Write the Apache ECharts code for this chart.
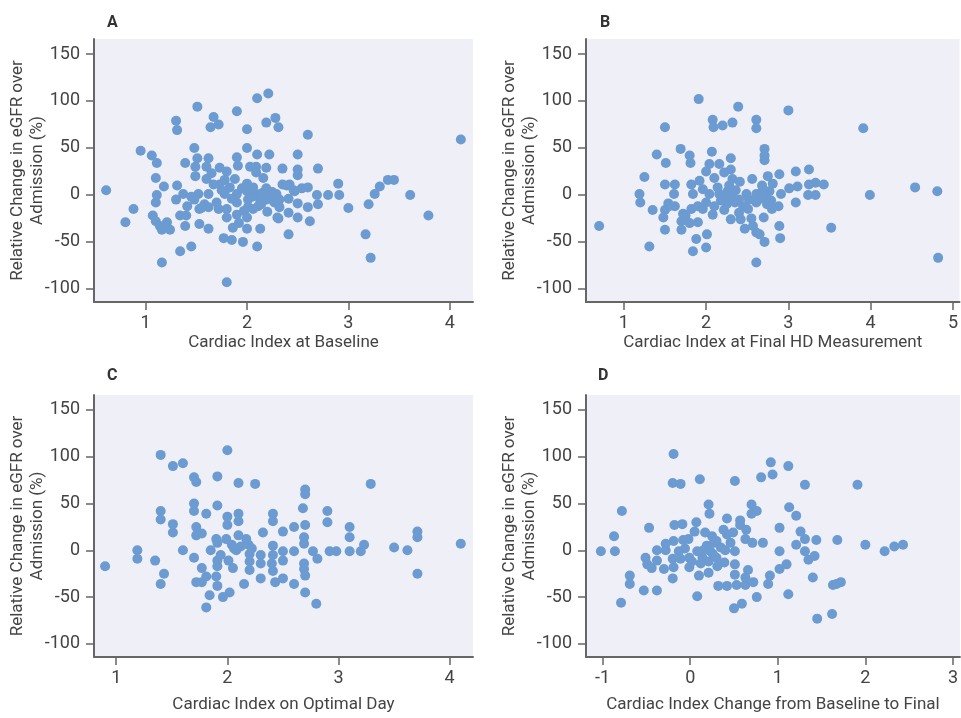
<!DOCTYPE html>
<html>
<head>
<meta charset="utf-8">
<script src="https://cdn.jsdelivr.net/npm/echarts@6.0.0/dist/echarts.min.js"></script>
<style>
  html, body { margin: 0; padding: 0; background: #fff; }
  #main { width: 961px; height: 718px; }
</style>
</head>
<body>
<div id="main"></div>
<script>
// tick labels
var yTicks = [-100, -50, 0, 50, 100, 150];
var xTicksA = [1, 2, 3, 4];
var xTicksB = [1, 2, 3, 4, 5];
var xTicksC = [1, 2, 3, 4];
var xTicksD = [-1, 0, 1, 2, 3];

// [cardiac index, relative change in eGFR (%)]
var baselineCI = [
  [0.61,5],[0.80,-29],[0.88,-15],[0.95,47],[1.06,42],[1.11,34],[1.10,18],[1.18,9],[1.11,0],[1.10,-8],
  [1.07,-22],[1.10,-28],[1.14,-33],[1.16,-37],[1.21,-29],[1.24,-37],[1.16,-72],
  [1.30,79],[1.31,69],[1.31,10],[1.30,-5],[1.37,1],[1.41,-12],[1.34,-22],[1.40,-22],[1.39,-33],[1.34,-60],[1.45,-55],
  [1.39,34],[1.48,50],[1.51,39],[1.49,30],[1.49,20],[1.51,94],[1.48,-5],[1.52,1],[1.53,-15],[1.53,-31],[1.62,-36],
  [1.62,39],[1.60,30],[1.65,23],[1.60,17],[1.67,11],[1.62,1],[1.62,-13],[1.70,-8],[1.67,83],[1.72,75],[1.64,72],
  [1.73,29],[1.80,25],[1.73,11],[1.78,16],[1.72,-15],[1.80,-15],[1.80,-24],[1.77,-46],[1.85,-48],[1.80,-93],
  [1.88,17],[1.83,8],[1.78,1],[1.90,89],[1.90,40],[1.91,31],[1.90,1],[1.90,-8],[1.90,-21],[1.86,-35],[1.92,-30],
  [2.00,70],[2.00,50],[2.00,12],[2.00,4],[2.01,-5],[2.01,-13],[2.00,-24],[2.00,-36],[1.96,-50],
  [2.10,103],[2.21,108],[2.19,77],[2.28,82],[2.31,72],[2.10,43],[2.22,43],[2.03,30],[2.09,30],[2.19,29],[2.09,24],[2.16,18],
  [2.09,1],[2.19,7],[2.19,-5],[2.13,-6],[2.11,-12],[2.06,-15],[2.20,-18],[2.30,-24],[2.13,-36],[2.10,-55],
  [2.35,28],[2.35,11],[2.42,11],[2.29,1],[2.32,-5],[2.32,-13],[2.31,-25],[2.41,-19],[2.41,-42],[2.41,-4],
  [2.50,43],[2.50,27],[2.50,21],[2.47,4],[2.50,-9],[2.50,-24],[2.54,7],[2.60,64],[2.60,8],[2.60,-13],[2.62,-28],
  [2.70,28],[2.69,0],[2.70,-10],[2.80,0],[2.90,12],[2.91,0],[3.00,-14],[3.17,-42],[3.20,-10],[3.22,-67],
  [3.26,1],[3.31,9],[3.39,16],[3.45,16],[3.61,0],[3.79,-22],[4.11,59],
  [2.24,0],[2.05,-2],[2.15,2],[2.27,-8],[2.39,10],[2.46,5],[1.95,7],[1.85,-4],[1.75,5],[2.06,8],
  [2.14,-10],[1.97,-17],[2.25,3],[1.58,-10],[1.45,-2],[1.55,-14]
];
var finalCI = [
  [0.70,-33],[1.19,1],[1.20,-8],[1.25,19],[1.31,-55],[1.35,-16],[1.40,43],[1.50,72],[1.51,34],[1.50,11],
  [1.62,11],[1.61,1],[1.54,-9],[1.50,-16],[1.48,-24],[1.62,-12],[1.50,-37],
  [1.69,49],[1.80,42],[1.81,34],[1.70,-28],[1.75,-22],[1.70,-37],[1.80,-30],[1.82,11],[1.84,1],[1.92,15],
  [1.82,-15],[1.90,-12],[1.96,-15],[1.91,102],[1.90,-29],[1.88,-47],[2.01,-42],[1.84,-60],[2.00,-56],
  [2.07,46],[2.04,33],[2.16,33],[2.00,25],[2.10,18],[2.04,1],[2.16,1],[2.08,80],[2.09,72],[2.20,74],[2.32,77],
  [2.39,94],[2.30,39],[2.30,27],[2.22,24],[2.32,17],[2.41,14],
  [2.10,-12],[2.08,-21],[2.22,-16],[2.20,-3],[2.30,-4],[2.26,4],[2.32,2],[2.40,-5],[2.40,-19],[2.30,-26],
  [2.42,-26],[2.49,1],[2.51,-15],[2.56,17],
  [2.47,-36],[2.57,-33],[2.61,-40],[2.65,-42],[2.71,-50],[2.61,-72],[2.61,80],[2.61,71],[2.71,49],[2.71,42],
  [2.71,37],[2.61,1],[2.61,-8],[2.69,6],[2.71,-3],[2.70,-24],
  [2.75,20],[2.81,12],[2.77,4],[2.79,-6],[2.80,-15],[2.89,22],[2.91,1],[2.88,-12],[2.89,-33],[2.90,-46],
  [3.00,90],[3.01,7],[3.11,9],[3.09,25],[3.09,-8],
  [3.25,27],[3.25,11],[3.33,13],[3.43,11],[3.24,0],[3.33,0],[3.52,-35],[3.91,71],[3.99,0],[4.54,8],[4.81,4],[4.82,-67],
  [2.25,-10],[2.35,-8],[2.28,10],[2.14,8],[2.36,5],[2.52,-5],[2.66,-4],[2.74,-10],[2.68,10],[2.55,-25],
  [2.18,-6],[1.96,6],[2.00,-8],[2.45,-12],[1.72,-20],[1.55,-12]
];
var optimalCI = [
  [0.90,-17],[1.19,0],[1.19,-9],[1.35,-11],[1.40,102],[1.40,42],[1.40,33],[1.43,-25],[1.40,-36],[1.51,90],
  [1.60,93],[1.51,28],[1.51,19],[1.60,0],
  [1.70,78],[1.72,73],[1.70,50],[1.70,42],[1.72,25],[1.72,16],[1.77,18],[1.70,-8],[1.81,39],[1.77,-19],
  [1.72,-34],[1.77,-34],[1.81,-28],[1.84,-48],[1.81,-61],
  [1.91,79],[1.91,48],[1.90,12],[1.91,8],[1.85,0],[1.91,-11],[1.91,-17],[1.90,-28],[1.91,-38],[1.96,-50],[2.02,-45],
  [2.00,107],[2.00,36],[2.00,27],[1.99,12],[2.04,6],[2.08,0],[2.01,-11],[2.05,-19],[2.10,72],[2.10,39],
  [2.10,31],[2.10,16],[2.17,12],[2.19,6],[2.20,-4],[2.20,-12],[2.20,-21],[2.15,-36],
  [2.25,71],[2.32,19],[2.30,-5],[2.30,-14],[2.30,-30],[2.41,39],[2.41,31],[2.41,5],[2.41,-5],[2.40,-14],[2.41,-22],[2.43,-34],
  [2.50,20],[2.50,-1],[2.50,-11],[2.50,-30],[2.60,25],[2.60,-1],[2.60,-36],[2.68,45],[2.70,65],[2.70,60],
  [2.70,27],[2.69,14],[2.69,7],[2.69,-14],[2.69,-20],[2.70,-27],[2.70,-45],
  [2.77,-1],[2.81,-9],[2.80,-57],[2.90,42],[2.90,30],[2.92,-1],[2.98,-1],[3.10,25],[3.10,14],[3.10,-1],
  [3.20,-1],[3.23,6],[3.29,71],[3.50,3],[3.62,0],[3.71,20],[3.71,14],[3.71,-25],[4.10,7],
  [2.06,2],[2.12,4],[1.94,-5],[2.22,2]
];
var changeCI = [
  [-1.02,-1],[-0.86,-1],[-0.87,15],[-0.78,42],[-0.69,-27],[-0.69,-36],[-0.79,-56],[-0.53,-43],[-0.38,-43],
  [-0.47,24],[-0.51,-8],[-0.49,-15],[-0.44,-19],[-0.38,-11],[-0.38,0],[-0.28,7],[-0.28,0],[-0.30,-20],
  [-0.19,103],[-0.20,72],[-0.11,71],[-0.18,27],[-0.09,28],[-0.19,10],[-0.08,11],[-0.02,12],[-0.13,-1],
  [-0.11,-9],[-0.20,-9],[-0.19,-18],[-0.20,-30],[-0.01,-18],[-0.01,-8],
  [0.07,30],[0.05,20],[0.08,-1],[0.11,76],[0.08,-49],[0.10,-27],[0.17,19],[0.25,15],[0.21,49],[0.22,39],
  [0.19,5],[0.23,-1],[0.27,8],[0.30,10],[0.14,-8],[0.21,-12],[0.30,-8],[0.31,-17],[0.21,-24],
  [0.32,-38],[0.42,-38],[0.42,34],[0.38,22],[0.42,17],[0.49,19],[0.40,0],[0.51,-1],[0.39,-13],[0.51,-15],
  [0.51,74],[0.50,-62],[0.59,-57],[0.51,-26],[0.53,-37],[0.63,-37],[0.63,-29],[0.66,-21],[0.72,-34],
  [0.57,32],[0.57,27],[0.64,22],[0.63,12],[0.71,8],[0.70,49],[0.70,39],[0.76,42],[0.76,-50],[0.81,78],
  [0.83,8],[0.92,94],[0.94,81],[0.89,-36],[0.91,-27],
  [1.02,24],[1.02,-1],[1.02,-20],[1.10,-15],[1.12,90],[1.13,46],[1.21,37],[1.12,-47],[1.21,6],[1.26,20],
  [1.31,12],[1.31,70],[1.31,-1],[1.35,-10],[1.42,-6],[1.40,-29],[1.44,11],[1.45,-73],
  [1.62,-68],[1.63,-37],[1.67,-36],[1.72,-34],[1.68,11],[1.91,70],[2.00,6],[2.22,-1],[2.33,4],[2.43,6],
  [0.15,0],[0.26,-4],[0.02,-12],[-0.06,2],[0.12,-14],[0.35,3],[0.46,8]
];

var yNameLines = ['Relative Change in eGFR over', 'Admission (%)'];
var panels = [
  { letter: 'A', xName: 'Cardiac Index at Baseline', data: baselineCI, xTicks: xTicksA, xMin: 0.49, xMax: 4.23,
    grid: { left: 94, top: 39, width: 379, height: 263 }, nameGap: 32, lx: 107, ly: 15 },
  { letter: 'B', xName: 'Cardiac Index at Final HD Measurement', data: finalCI, xTicks: xTicksB, xMin: 0.54, xMax: 5.08,
    grid: { left: 586, top: 39, width: 375, height: 263 }, nameGap: 32, lx: 600, ly: 15 },
  { letter: 'C', xName: 'Cardiac Index on Optimal Day', data: optimalCI, xTicks: xTicksC, xMin: 0.80, xMax: 4.21,
    grid: { left: 94, top: 395, width: 379, height: 262 }, nameGap: 39, lx: 107, ly: 368 },
  { letter: 'D', xName: 'Cardiac Index Change from Baseline to Final', data: changeCI, xTicks: xTicksD, xMin: -1.19, xMax: 3.08,
    grid: { left: 586, top: 395, width: 375, height: 262 }, nameGap: 39, lx: 598, ly: 368 }
];

var font = 'Roboto';
var axisColor = '#666';
var textColor = '#444';

var chart = echarts.init(document.getElementById('main'));
var option = {
  backgroundColor: '#fff',
  animation: false,
  title: [],
  graphic: [],
  grid: [],
  xAxis: [],
  yAxis: [],
  series: []
};

panels.forEach(function (p, i) {
  option.title.push({
    text: p.letter, left: p.lx, top: p.ly, padding: 0,
    textStyle: { fontFamily: font, fontSize: 16, fontWeight: 'bold', color: '#333' }
  });
  option.grid.push({
    left: p.grid.left, top: p.grid.top, width: p.grid.width, height: p.grid.height,
    show: true, backgroundColor: '#eff0f7', borderWidth: 0
  });
  // y-axis title, two centred lines rotated
  var cy = p.grid.top + p.grid.height / 2;
  yNameLines.forEach(function (line, k) {
    option.graphic.push({
      type: 'text', x: p.grid.left - 76 + k * 20, y: cy, rotation: Math.PI / 2,
      style: {
        text: line, textAlign: 'center', textVerticalAlign: 'middle',
        font: '17px ' + font, fill: textColor
      }
    });
  });
  option.xAxis.push({
    gridIndex: i, type: 'value', min: p.xMin, max: p.xMax,
    name: p.xName, nameLocation: 'middle', nameGap: p.nameGap,
    nameTextStyle: { fontFamily: font, fontSize: 17, color: textColor },
    axisLine: { show: true, onZero: false, lineStyle: { color: axisColor, width: 2 } },
    axisTick: { show: true, length: 8, customValues: p.xTicks, lineStyle: { color: axisColor, width: 1.5 } },
    axisLabel: { customValues: p.xTicks, margin: 12, fontFamily: font, fontSize: 18, color: textColor },
    splitLine: { show: false }
  });
  option.yAxis.push({
    gridIndex: i, type: 'value', min: -114, max: 166,
    axisLine: { show: true, onZero: false, lineStyle: { color: axisColor, width: 2 } },
    axisTick: { show: true, length: 8, customValues: yTicks, lineStyle: { color: axisColor, width: 1.5 } },
    axisLabel: { customValues: yTicks, margin: 14, fontFamily: font, fontSize: 18, color: textColor },
    splitLine: { show: false }
  });
  option.series.push({
    type: 'scatter', xAxisIndex: i, yAxisIndex: i,
    data: p.data, symbol: 'circle', symbolSize: 10,
    itemStyle: { color: '#6b9bd1', opacity: 1 }
  });
});

chart.setOption(option);
</script>
</body>
</html>
